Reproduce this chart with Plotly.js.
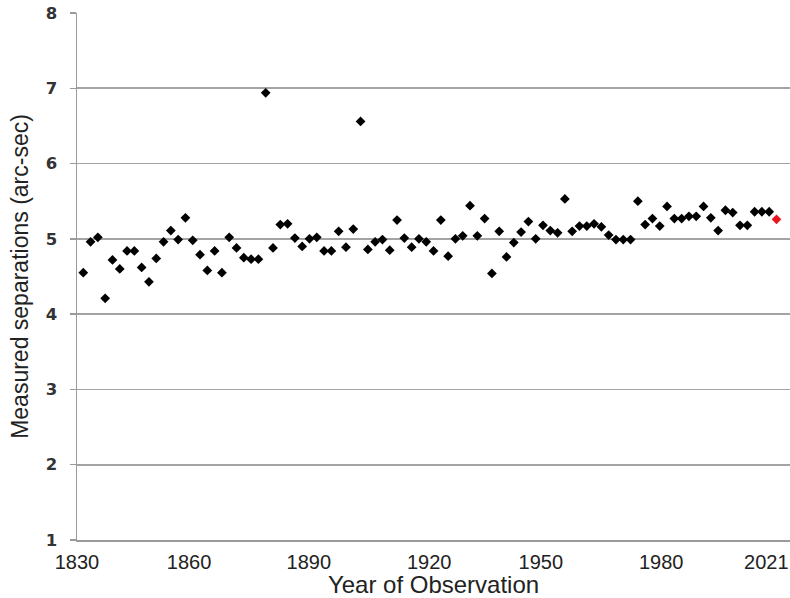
<!DOCTYPE html>
<html>
<head>
<meta charset="utf-8">
<script src="https://cdn.plot.ly/plotly-3.0.1.min.js"></script>
<style>html,body{margin:0;padding:0;background:#fff;}#chart{width:790px;height:598px;}</style>
</head>
<body>
<div id="chart"></div>
<script>
// Measured separations (arc-sec), one value per observation, in order
const separations = [
  4.55, 4.96, 5.02, 4.21, 4.72, 4.60, 4.84, 4.84, 4.62, 4.43,
  4.74, 4.96, 5.11, 4.99, 5.28, 4.98, 4.79, 4.58, 4.84, 4.55,
  5.02, 4.88, 4.75, 4.73, 4.73, 6.94, 4.88, 5.19, 5.20, 5.01,
  4.90, 5.00, 5.02, 4.84, 4.84, 5.10, 4.89, 5.13, 6.56, 4.86,
  4.96, 4.99, 4.85, 5.25, 5.01, 4.89, 5.00, 4.96, 4.84, 5.25,
  4.77, 5.00, 5.04, 5.44, 5.04, 5.27, 4.54, 5.10, 4.76, 4.95,
  5.09, 5.23, 5.00, 5.18, 5.11, 5.08, 5.53, 5.10, 5.17, 5.17,
  5.20, 5.16, 5.05, 4.99, 4.99, 4.99, 5.50, 5.19, 5.27, 5.17,
  5.43, 5.27, 5.27, 5.30, 5.30, 5.43, 5.28, 5.11, 5.38, 5.35,
  5.18, 5.18, 5.36, 5.36, 5.36
];
// latest observation (highlighted in red)
const latestSeparation = [5.26];

const yearLabels = ["1830", "1860", "1890", "1920", "1950", "1980", "2021"];
const yearLabelObs = [0.14, 15.5, 31.9, 48.4, 63.7, 80.2, 94.6];
const yTicks = [1, 2, 3, 4, 5, 6, 7, 8];

const obsIndex = separations.map((_, i) => i + 1);
const latestIndex = [separations.length + 1];

const traces = [
  {
    x: obsIndex, y: separations, type: "scatter", mode: "markers",
    marker: {symbol: "diamond", size: 7.5, color: "#000000"},
    hoverinfo: "y", showlegend: false
  },
  {
    x: latestIndex, y: latestSeparation, type: "scatter", mode: "markers",
    marker: {symbol: "diamond", size: 7.5, color: "#e8161c"},
    hoverinfo: "y", showlegend: false
  }
];

const layout = {
  width: 790, height: 598,
  margin: {l: 77, r: 0, t: 13, b: 58},
  paper_bgcolor: "#ffffff", plot_bgcolor: "#ffffff",
  font: {family: "Liberation Sans, Arial, sans-serif", color: "#222222"},
  showlegend: false,
  xaxis: {
    range: [0.14, 97.85],
    tickmode: "array", tickvals: yearLabelObs, ticktext: yearLabels,
    showgrid: false, zeroline: false,
    showline: true, linecolor: "#9a9a9a", linewidth: 1.5,
    ticks: "", ticklabelstandoff: 3, tickfont: {size: 20, color: "#222222"},
    title: {text: "Year of Observation", font: {size: 24, color: "#222222"}, standoff: 4},
    automargin: false
  },
  yaxis: {
    range: [1, 8],
    tickmode: "array", tickvals: yTicks, ticktext: yTicks.map(String),
    showgrid: true, gridcolor: "#a3a3a3", gridwidth: 1.6,
    zeroline: false,
    showline: true, linecolor: "#9a9a9a", linewidth: 1.5,
    ticks: "outside", ticklen: 6, tickcolor: "#9a9a9a", tickwidth: 1.5,
    ticklabelstandoff: 9,
    tickfont: {size: 16.5, color: "#333333", family: "DejaVu Sans, Verdana, sans-serif", weight: "bold"},
    title: {text: "Measured separations (arc-sec)", font: {size: 23, color: "#222222"}, standoff: 10},
    automargin: false
  }
};

Plotly.newPlot("chart", traces, layout, {staticPlot: true, displayModeBar: false});
</script>
</body>
</html>
